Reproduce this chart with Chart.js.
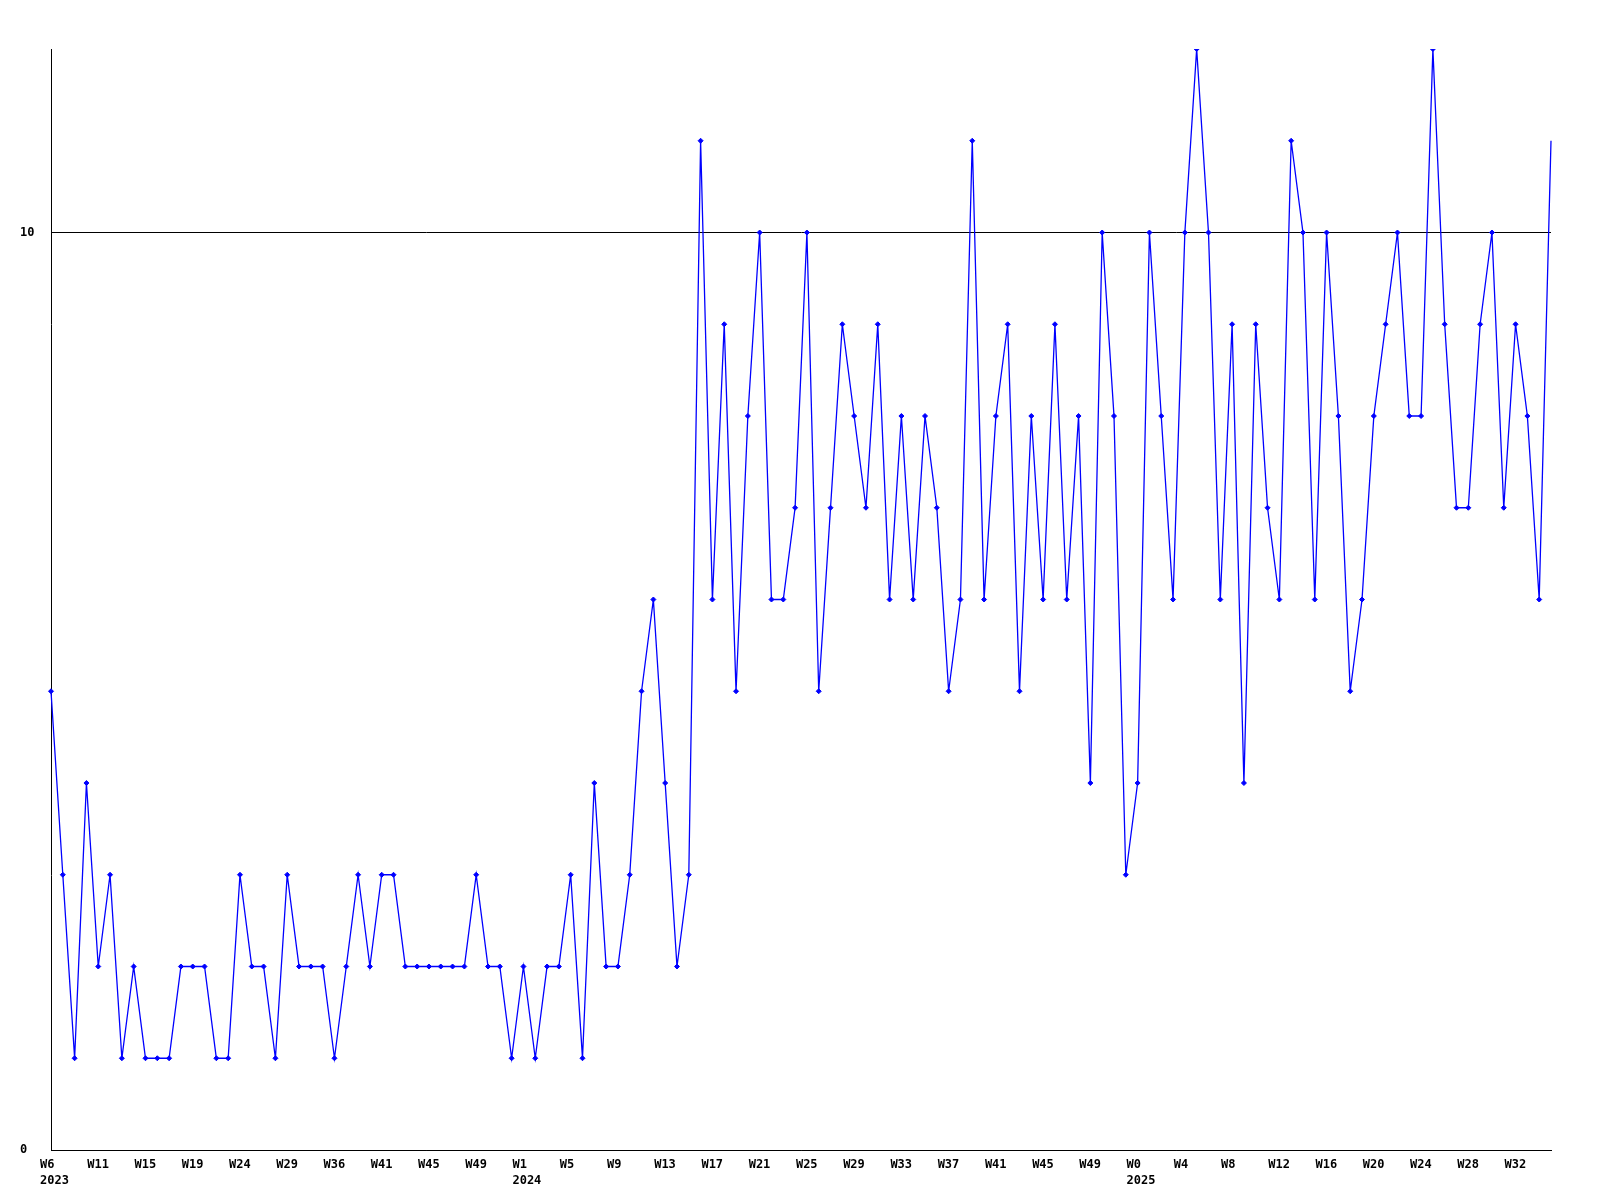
<!DOCTYPE html>
<html>
<head>
<meta charset="utf-8">
<title>Weekly count</title>
<script src="https://cdn.jsdelivr.net/npm/chart.js@4.4.1/dist/chart.umd.min.js"></script>
<style>
  html, body { margin: 0; padding: 0; background: #fff; }
  #chart { display: block; }
</style>
</head>
<body>
<canvas id="chart" width="1600" height="1200"></canvas>
<script>
// one value per week, weeks with no data are not in the list
const values = [
  5, 3, 1, 4, 2, 3, 1, 2, 1, 1,
  1, 2, 2, 2, 1, 1, 3, 2, 2, 1,
  3, 2, 2, 2, 1, 2, 3, 2, 3, 3,
  2, 2, 2, 2, 2, 2, 3, 2, 2, 1,
  2, 1, 2, 2, 3, 1, 4, 2, 2, 3,
  5, 6, 4, 2, 3, 11, 6, 9, 5, 8,
  10, 6, 6, 7, 10, 5, 7, 9, 8, 7,
  9, 6, 8, 6, 8, 7, 5, 6, 11, 6,
  8, 9, 5, 8, 6, 9, 6, 8, 4, 10,
  8, 3, 4, 10, 8, 6, 10, 12, 10, 6,
  9, 4, 9, 7, 6, 11, 10, 6, 10, 8,
  5, 6, 8, 9, 10, 8, 8, 12, 9, 7,
  7, 9, 10, 7, 9, 8, 6, 11
];

// a week label on every 4th point
const weekTicks = [
  'W6', 'W11', 'W15', 'W19', 'W24', 'W29', 'W36', 'W41', 'W45', 'W49',
  'W1', 'W5', 'W9', 'W13', 'W17', 'W21', 'W25', 'W29', 'W33', 'W37',
  'W41', 'W45', 'W49', 'W0', 'W4', 'W8', 'W12', 'W16', 'W20', 'W24',
  'W28', 'W32'
];
const yearTicks = ['2023', '2024', '2025'];
const yearAt = [0, 10, 23];   // index into weekTicks where the year starts
const yTicks = [0, 10];
const TICK_STEP = 4;

const labels = values.map((v, i) => {
  if (i % TICK_STEP) return '';
  const k = i / TICK_STEP;
  const y = yearAt.indexOf(k);
  return y >= 0 ? [weekTicks[k], yearTicks[y]] : weekTicks[k];
});

const font = { family: '"DejaVu Sans Mono", monospace', size: 12, weight: 'bold', lineHeight: '16px' };

new Chart(document.getElementById('chart'), {
  type: 'line',
  data: {
    labels,
    datasets: [{
      data: values,
      borderColor: '#0000ff',
      backgroundColor: '#0000ff',
      borderWidth: 1.3,
      tension: 0,
      pointStyle: 'rectRot',
      pointRadius: ctx => ctx.dataIndex === values.length - 1 ? 0 : 2.5,
      pointBorderWidth: 1,
      pointHoverRadius: 2.5
    }]
  },
  options: {
    responsive: false,
    animation: false,
    devicePixelRatio: 1,
    layout: { padding: { top: 49, right: 49, bottom: 0, left: 20 } },
    plugins: { legend: { display: false }, tooltip: { enabled: false } },
    scales: {
      x: {
        type: 'category',
        offset: false,
        grid: { display: false, drawTicks: false },
        border: { display: true, color: '#000', width: 1 },
        ticks: {
          autoSkip: false,
          maxRotation: 0,
          minRotation: 0,
          align: 'start',
          labelOffset: -11,
          padding: 7,
          color: '#000',
          font
        },
        afterFit: s => { s.height = 50; }
      },
      y: {
        min: 0,
        max: 12,
        grid: { color: '#000', lineWidth: 1, drawTicks: false },
        border: { display: true, color: '#000', width: 1 },
        ticks: { crossAlign: 'far', padding: 0, color: '#000', font },
        afterBuildTicks: s => { s.ticks = yTicks.map(v => ({ value: v })); },
        afterFit: s => { s.width = 31; }
      }
    }
  }
});
</script>
</body>
</html>
